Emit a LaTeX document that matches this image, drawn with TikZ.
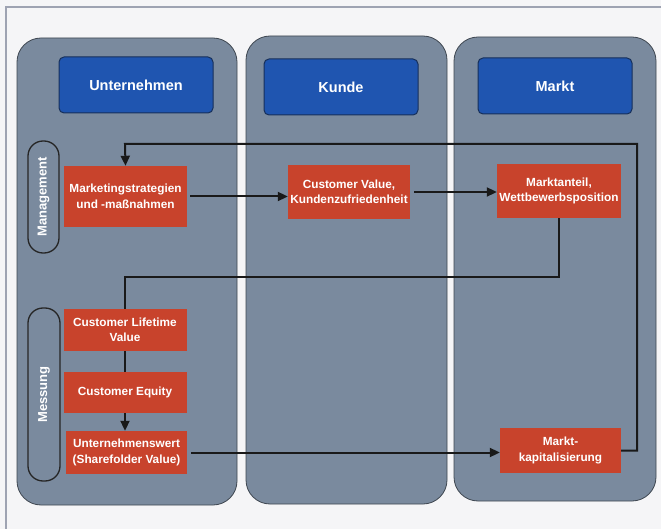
\documentclass[tikz,border=0pt]{standalone}
\usepackage{fontspec}
\setmainfont{Liberation Sans}
\usetikzlibrary{arrows.meta,calc}
\definecolor{bgc}{HTML}{F5F5F7}
\definecolor{framec}{HTML}{9EA3B2}
\definecolor{panelc}{HTML}{7A8A9E}
\definecolor{panelb}{HTML}{3E4650}
\definecolor{hdrc}{HTML}{1F55B0}
\definecolor{hdrb}{HTML}{17305A}
\definecolor{redc}{HTML}{C8432C}
\begin{document}
\begin{tikzpicture}[x=1pt,y=-1pt,
  panelbox/.style={draw=panelb,line width=0.8pt,fill=panelc,rounded corners=24pt},
  hdrbox/.style={draw=hdrb,line width=1pt,fill=hdrc,rounded corners=5pt,text=white,font=\bfseries\fontsize{14.5}{16}\selectfont},
  redbox/.style={fill=redc,text=white,inner sep=1pt,align=center,font=\bfseries\fontsize{11.8}{15.5}\selectfont},
  pill/.style={draw=black!85,line width=1.3pt,rounded corners=15pt},
  vlabel/.style={text=white,rotate=90,font=\bfseries\fontsize{13}{14}\selectfont},
  conn/.style={draw=black!90,line width=2pt},
  arr/.style={conn,-{Triangle[length=10pt,width=9pt]}}]
\fill[bgc] (0,0) rectangle (661,529);
\useasboundingbox (0,0) rectangle (661,529);
\draw[framec,line width=1.2pt] (661,7) -- (6,7) -- (6,529);
% panels
\draw[panelbox] (17,38) rectangle (237,505);
\draw[panelbox] (246,36) rectangle (447,504);
\draw[panelbox] (454,37) rectangle (656,501);
% headers
\node[hdrbox,minimum width=154pt,minimum height=56pt] (h1) at (136,85) {Unternehmen};
\node[hdrbox,minimum width=154pt,minimum height=56pt] (h2) at (341,87) {Kunde};
\node[hdrbox,minimum width=154pt,minimum height=56pt] (h3) at (555,86) {Markt};
% pills
\draw[pill] (28,141) rectangle (59,253);
\node[vlabel] (lm) at (43.5,197) {Management};
\draw[pill] (28,308) rectangle (60,481);
\node[vlabel] (lme) at (44,394.5) {Messung};
% boxes
\node[redbox,minimum width=123pt,minimum height=61pt] (mk) at (125.5,196.5) {Marketingstrategien\\und -maßnahmen};
\node[redbox,minimum width=122pt,minimum height=54pt] (cv) at (349,192) {Customer Value,\\Kundenzufriedenheit};
\node[redbox,minimum width=124pt,minimum height=54pt] (ma) at (559,191) {Marktanteil,\\Wettbewerbsposition};
\node[redbox,minimum width=123pt,minimum height=42pt] (clv) at (125,330) {Customer Lifetime\\Value};
\node[redbox,minimum width=123pt,minimum height=41pt] (ce) at (125,392.5) {Customer Equity};
\node[redbox,minimum width=121pt,minimum height=43pt] (uw) at (126.5,452.5) {Unternehmenswert\\(Sharefolder Value)};
\node[redbox,minimum width=121pt,minimum height=45pt] (mkap) at (560.5,450.5) {Markt-\\kapitalisierung};
% connectors
\coordinate (c1) at (125,277);
\coordinate (c2) at (637,144);
\coordinate (c3) at (125,144);
\draw[arr,shorten <=3pt] (mk.east) -- (mk.east -| cv.west);
\draw[arr,shorten <=4pt] (cv.east) -- (cv.east -| ma.west);
\draw[conn] (ma.south) |- (c1) -- (clv.north);
\draw[conn] (clv.south) -- (ce.north);
\draw[arr] (ce.south) -- (ce.south |- uw.north);
\draw[arr,shorten <=4pt] (uw.east) -- (uw.east -| mkap.west);
\draw[arr] (mkap.east) -| (c2) -- (c3) -- (mk.north);
\end{tikzpicture}
\end{document}
